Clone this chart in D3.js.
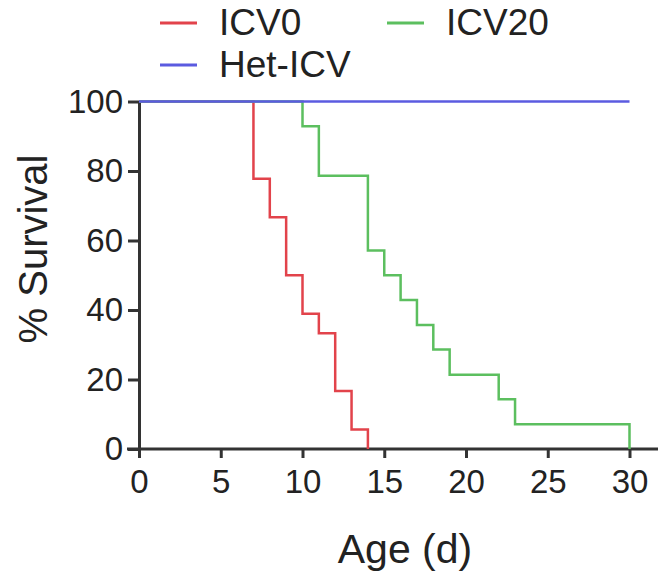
<!DOCTYPE html>
<html>
<head>
<meta charset="utf-8">
<script src="https://cdn.jsdelivr.net/npm/d3@7"></script>
<style>
    body { margin: 0; background: #fff; }
    svg { display: block; font-family: "Liberation Sans", Arial, Helvetica, sans-serif; }
</style>
</head>
<body>
<svg id="chart" width="661" height="574"></svg>
<script>
// Survival data (age in days, % survival)
const icv0Days = [0, 7, 8, 9, 10, 11, 12, 13, 14];
const icv0Surv = [100, 77.8, 66.7, 50, 38.9, 33.3, 16.7, 5.6, 0];

const icv20Days = [0, 10, 11, 14, 15, 16, 17, 18, 19, 22, 23, 30];
const icv20Surv = [100, 92.9, 78.6, 57.1, 50, 42.9, 35.7, 28.6, 21.4, 14.3, 7.1, 0];

const hetDays = [0, 30];
const hetSurv = [100, 100];

const xTicks = [0, 5, 10, 15, 20, 25, 30];
const yTicks = [0, 20, 40, 60, 80, 100];

const seriesNames = ['ICV0', 'ICV20', 'Het-ICV'];
const seriesColors = ['#e2434b', '#5cbf5f', '#5b5be0'];

const axisColor = '#333';

const svg = d3.select('#chart');

// Scales
const x = d3.scaleLinear().domain([0, 30]).range([139, 629.5]);
const y = d3.scaleLinear().domain([0, 100]).range([449, 101.5]);

// Step lines
const line = d3.line()
    .x(d => x(d[0]))
    .y(d => y(d[1]))
    .curve(d3.curveStepAfter);

const series = [
    d3.zip(icv0Days, icv0Surv),
    d3.zip(icv20Days, icv20Surv),
    d3.zip(hetDays, hetSurv)
];

// Axes
const xAxis = svg.append('g')
    .attr('transform', `translate(0,${y(0)})`)
    .call(d3.axisBottom(x).tickValues(xTicks).tickSize(9).tickPadding(12).tickSizeOuter(0));

const yAxis = svg.append('g')
    .attr('transform', `translate(${x(0)},0)`)
    .call(d3.axisLeft(y).tickValues(yTicks).tickSize(11).tickPadding(5).tickSizeOuter(0));

// Extend x axis line to the right edge
xAxis.select('.domain').attr('d', `M${x(0) - 12},0H658`);

[xAxis, yAxis].forEach(a => {
    a.select('.domain').attr('stroke', axisColor).attr('stroke-width', 3);
    a.selectAll('.tick line').attr('stroke', axisColor).attr('stroke-width', 3);
    a.selectAll('.tick text')
        .attr('fill', '#222')
        .style('font-size', '33px')
        .style('font-family', '"Liberation Sans", Arial, sans-serif');
});

// Data lines (blue last so it sits on top)
svg.append('g')
    .selectAll('path')
    .data(series)
    .enter().append('path')
    .attr('d', d => line(d))
    .attr('fill', 'none')
    .attr('stroke', (d, i) => seriesColors[i])
    .attr('stroke-width', 2.5);

// Axis titles
svg.append('text')
    .attr('x', 405)
    .attr('y', 563)
    .attr('text-anchor', 'middle')
    .attr('fill', '#222')
    .style('font-size', '41px')
    .text('Age (d)');

svg.append('text')
    .attr('transform', 'translate(47,249) rotate(-90)')
    .attr('text-anchor', 'middle')
    .attr('fill', '#222')
    .style('font-size', '40px')
    .text('% Survival');

// Legend
const legendPos = [
    { lx: 160, ly: 23 },
    { lx: 387, ly: 23 },
    { lx: 160, ly: 65 }
];

const legend = svg.append('g')
    .selectAll('g')
    .data(seriesNames)
    .enter().append('g')
    .attr('transform', (d, i) => `translate(${legendPos[i].lx},${legendPos[i].ly})`);

legend.append('line')
    .attr('x1', 0)
    .attr('x2', 37)
    .attr('stroke', (d, i) => seriesColors[i])
    .attr('stroke-width', 3);

legend.append('text')
    .attr('x', 59)
    .attr('y', 12)
    .attr('fill', '#222')
    .style('font-size', '37px')
    .text(d => d);
</script>
</body>
</html>
